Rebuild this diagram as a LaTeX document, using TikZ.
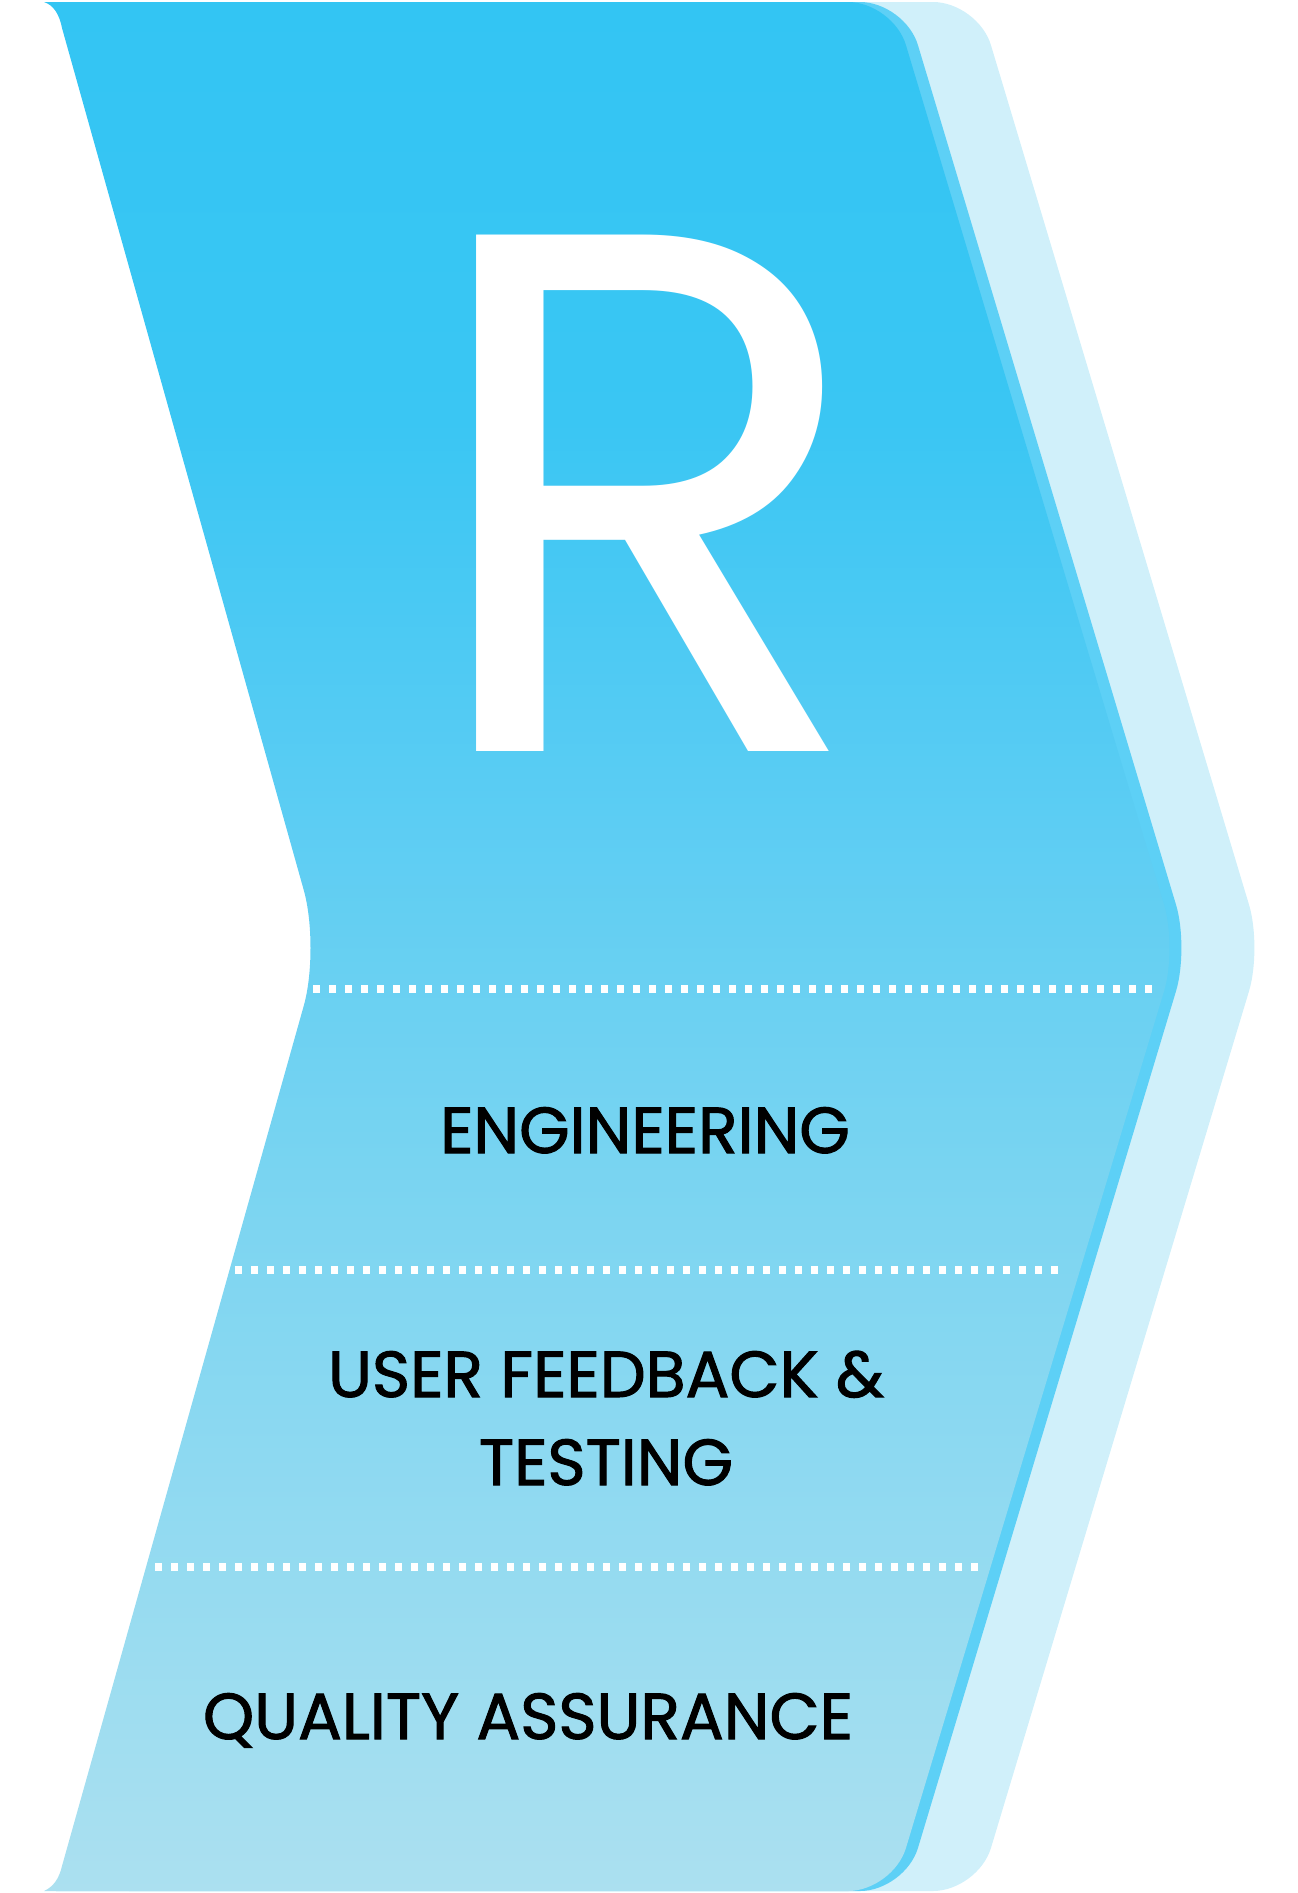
\documentclass[tikz,border=0pt]{standalone}
\usepackage{fontspec}
\setmainfont{Poppins}
\newfontfamily\stagefont{Poppins}[FakeBold=1.6]
\usetikzlibrary{positioning}

\definecolor{chevback}{HTML}{D0F0FA}
\definecolor{chevedge}{HTML}{5DD0F6}
\definecolor{chevtop}{HTML}{33C5F3}
\definecolor{cheva}{HTML}{3AC6F3}
\definecolor{chevb}{HTML}{58CCF3}
\definecolor{chevc}{HTML}{7DD5F1}
\definecolor{chevbot}{HTML}{ABE0F0}

% face colour, darker at the top
\pgfdeclareverticalshading{chevshade}{100bp}{color(0bp)=(chevbot); color(25bp)=(chevbot);
  color(42.7bp)=(chevc); color(54.6bp)=(chevb); color(63.9bp)=(cheva);
  color(75bp)=(chevtop); color(100bp)=(chevtop)}

% outline of one chevron, in pixels of the picture
\newcommand\chevronoutline{(44,2) .. controls (53,5) and (59,13) .. (62,28)
  [rounded corners=60] -- (320,948)
  [sharp corners] -- (62,1866) .. controls (59,1879) and (53,1887) .. (44,1891)
  [rounded corners=45] -- (893,1891) -- (1177,948) -- (893,2) [sharp corners] -- cycle}

\begin{document}
\begin{tikzpicture}[x=1pt,y=-1pt,
  back/.style={fill=chevback},
  rim/.style={fill=chevedge},
  face/.style={shading=chevshade},
  sep/.style={draw=white,line width=8pt,dash pattern=on 7pt off 9pt},
  stage/.style={font=\stagefont\fontsize{65}{88}\selectfont,text=black,align=center,inner sep=0pt}]
\useasboundingbox (0,0) rectangle (1298,1893);

\begin{scope}[xshift=85pt]
\path[back] \chevronoutline;
\end{scope}
\begin{scope}[xshift=12pt]
\path[rim] \chevronoutline;
\end{scope}
\shade[face] \chevronoutline;

\node[font=\fontsize{741}{741}\selectfont,text=white,inner sep=0pt,anchor=base] (letter) at (645,751) {R};

\draw[sep] (313,989) -- (1152,989);
\draw[sep] (235,1270) -- (1060,1270);
\draw[sep] (155,1567) -- (978,1567);

\node[stage,anchor=base] (eng) at (645,1153) {ENGINEERING};
\node[stage,anchor=base] (ufb) at (606,1485) {USER FEEDBACK \&\\TESTING};
\node[stage,anchor=base] (qa) at (528,1739) {QUALITY ASSURANCE};
\end{tikzpicture}
\end{document}
